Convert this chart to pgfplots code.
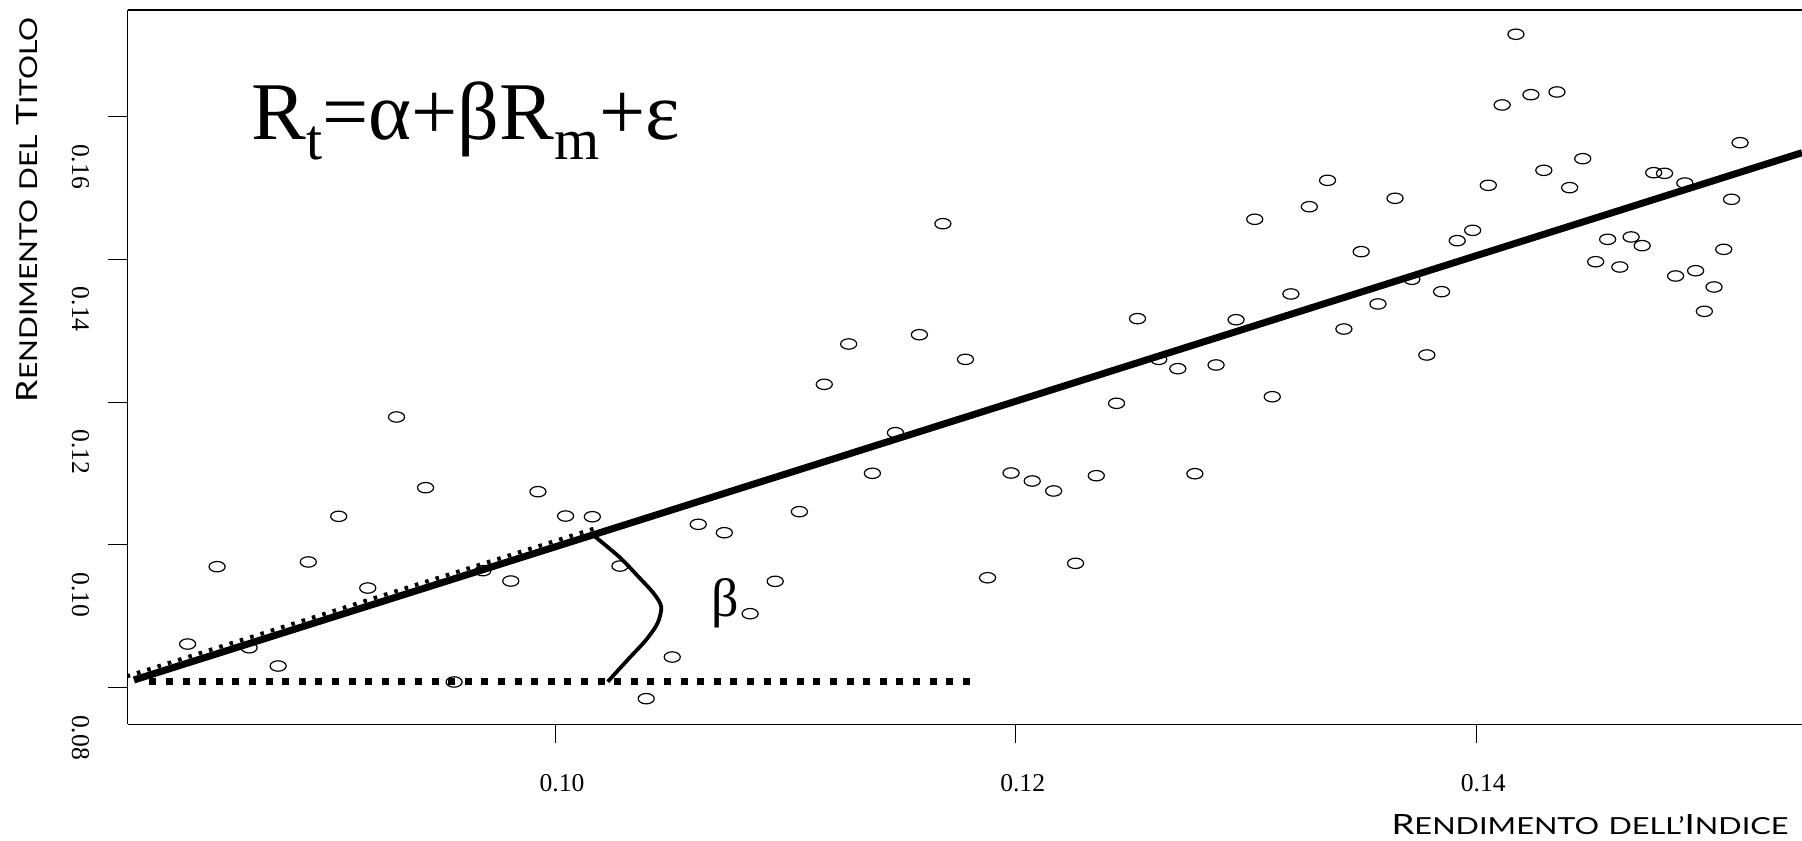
\documentclass[border=0pt]{standalone}
\usepackage{pgfplots}
\usepackage{pgfplotstable}
\pgfplotsset{compat=1.18}
\usepackage{fontspec}
\setmainfont{Liberation Serif}
\newfontfamily\labfont{Lato}

\pgfplotstableread{
x y
0.08405 0.08608
0.08533 0.09692
0.08672 0.08556
0.08798 0.08300
0.08929 0.09758
0.09061 0.10398
0.09187 0.09393
0.09312 0.11790
0.09438 0.10799
0.09562 0.08076
0.09687 0.09636
0.09808 0.09491
0.09926 0.10743
0.10046 0.10402
0.10162 0.10392
0.10282 0.09701
0.10396 0.07842
0.10509 0.08426
0.10622 0.10286
0.10735 0.10168
0.10847 0.09033
0.10956 0.09487
0.11061 0.10463
0.11169 0.12248
0.11275 0.12813
0.11378 0.11001
0.11478 0.11570
0.11582 0.12943
0.11684 0.14499
0.11782 0.12598
0.11878 0.09537
0.11980 0.11005
0.12072 0.10893
0.12165 0.10753
0.12260 0.09739
0.12350 0.10967
0.12438 0.11982
0.12529 0.13168
0.12621 0.12598
0.12704 0.12467
0.12778 0.10995
0.12870 0.12519
0.12957 0.13153
0.13038 0.14561
0.13114 0.12074
0.13195 0.13514
0.13275 0.14737
0.13354 0.15107
0.13425 0.13023
0.13500 0.14107
0.13573 0.13374
0.13647 0.14855
0.13720 0.13720
0.13785 0.12659
0.13849 0.13546
0.13917 0.14261
0.13984 0.14406
0.14052 0.15037
0.14112 0.16163
0.14172 0.17154
0.14237 0.16307
0.14293 0.15247
0.14350 0.16345
0.14405 0.15004
0.14462 0.15410
0.14518 0.13966
0.14570 0.14280
0.14623 0.13892
0.14672 0.14313
0.14720 0.14191
0.14770 0.15214
0.14817 0.15205
0.14865 0.13766
0.14905 0.15069
0.14952 0.13840
0.14990 0.13271
0.15032 0.13612
0.15074 0.14140
0.15108 0.14841
0.15145 0.15634
}\pts

\begin{document}
\begin{tikzpicture}
\useasboundingbox (-63.75pt,-57.85pt) rectangle (837.25pt,362.15pt);
\begin{axis}[
  at={(0pt,0pt)}, anchor=south west,
  scale only axis, width=837.25pt, height=357.15pt,
  xmin=0.08144, xmax=0.15414, ymin=0.07483, ymax=0.17494,
  axis line style={draw=none},
  xtick={0.10,0.12,0.14}, ytick={0.08,0.10,0.12,0.14,0.16},
  xtick pos=bottom, ytick pos=left, tick align=outside,
  major tick length=9.5pt,
  every tick/.style={black, line width=0.5pt},
  scaled ticks=false,
  /pgf/number format/.cd, fixed, fixed zerofill, precision=2, assume math mode=true,
  /pgfplots/.cd,
  tick label style={font=\fontsize{12.8}{12.8}\selectfont, inner sep=0pt},
  xticklabel style={anchor=center, xshift=3.5pt, yshift=-20pt},
  yticklabel style={anchor=center, xshift=-14pt, yshift=-25pt, rotate=-90},
]
\addplot[only marks, mark=o, mark size=2.6pt,
  mark options={xscale=1.55, line width=0.6pt, draw=black}] table {\pts};
\addplot[line width=2pt, dash pattern=on 1.8pt off 3.6pt] coordinates {(0.0814,0.08155) (0.1017,0.10226)};
\addplot[line width=3.5pt] coordinates {(0.08172,0.08104) (0.15414,0.15494)};
\addplot[line width=3.6pt, dash pattern=on 3.5pt off 4.8pt] coordinates {(0.08239,0.0808) (0.11815,0.0808)};
\addplot[line width=1.9pt, smooth] coordinates {
  (0.10165,0.10136) (0.10278,0.09832) (0.10362,0.09552) (0.10428,0.09319)
  (0.10461,0.09131) (0.10445,0.08898) (0.10395,0.08664) (0.10328,0.08430)
  (0.10262,0.08198) (0.10229,0.08080)};
\end{axis}
\draw[line width=0.6pt] (837.25pt,0pt) -- (0pt,0pt);
\draw[line width=0.6pt] (0pt,357.15pt) -- (837.25pt,357.15pt);
\draw[line width=0.9pt] (0pt,0pt) -- (0pt,357.15pt);
\node[anchor=base west, inner sep=0pt] at (61.75pt,292.15pt)
  {\fontsize{41}{41}\selectfont R\raisebox{-0.24em}{\fontsize{29}{29}\selectfont t}=α+βR\raisebox{-0.24em}{\fontsize{29}{29}\selectfont m}+ε};
\node[anchor=center, inner sep=0pt] at (298.75pt,60.65pt) {\fontsize{27}{27}\selectfont β};
\node[rotate=90, anchor=base, inner sep=0pt] at (-44.8pt,257.3pt)
  {\labfont\resizebox{192.5pt}{10.5pt}{R\scalebox{0.84}{ENDIMENTO}\ \scalebox{0.84}{DEL}\ T\scalebox{0.84}{ITOLO}}};
\node[anchor=base east, inner sep=0pt] at (830.75pt,-55pt)
  {\labfont\resizebox{198.5pt}{10pt}{R\scalebox{0.84}{ENDIMENTO}\ \scalebox{0.84}{DELL’}I\scalebox{0.84}{NDICE}}};
\end{tikzpicture}
\end{document}
